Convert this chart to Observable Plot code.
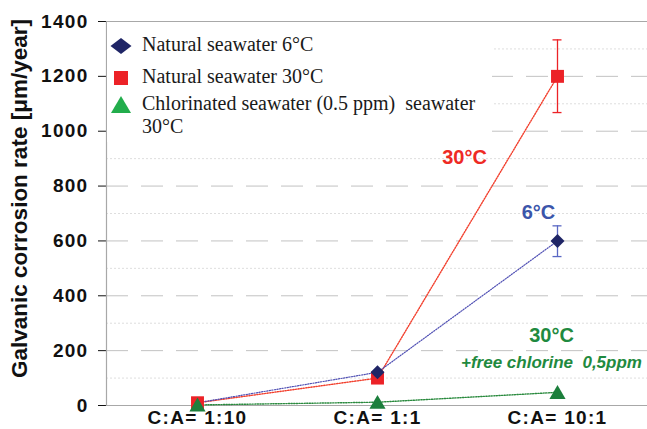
<!DOCTYPE html>
<html><head><meta charset="utf-8">
<script src="https://cdn.jsdelivr.net/npm/d3@7"></script>
<script src="https://cdn.jsdelivr.net/npm/@observablehq/plot@0.6"></script>
<style>
body{margin:0;background:#fff}
#wrap{position:relative;width:647px;height:429px;overflow:hidden}
#wrap svg text{white-space:pre}
g[aria-label="y-axis tick label"] text, g[aria-label="x-axis tick label"] text{font-weight:bold;letter-spacing:1.3px;fill:#111}
#legend{position:absolute;left:0;top:0}
</style></head>
<body><div id="wrap"></div>
<script>
// ---- data ----
const categories = ["C:A= 1:10", "C:A= 1:1", "C:A= 10:1"];
const seriesNames = ["Natural seawater 6°C", "Natural seawater 30°C", "Chlorinated seawater (0.5 ppm)  seawater"];
const legendSecondLine = ["", "", "30°C"];
const natural6 = [10, 121, 600];
const natural30 = [10, 100, 1200];
const chlorinated30 = [2, 12, 48];
const errCategory = ["C:A= 10:1", "C:A= 10:1"];
const errSeries = ["6", "30"];
const errLow = [543, 1068];
const errHigh = [655, 1333];
const yTicks = [0, 200, 400, 600, 800, 1000, 1200, 1400];
const majorGrid = [200, 400, 600, 800, 1000, 1200];
const minorGrid = [100, 300, 500, 700, 900, 1100, 1300];
const yLabel = "Galvanic corrosion rate [μm/year]";
const annotLabels = ["30°C", "6°C", "30°C", "+free chlorine  0,5ppm"];
const annotCats = ["C:A= 1:1", "C:A= 10:1", "C:A= 10:1", "C:A= 10:1"];
const annotValues = [904, 704, 255, 157];

// ---- styles ----
const cBlueDot = "#1f2566", cBlueLine = "#5050b4", cBlueErr = "#5a68c4", cBlueText = "#3b55aa";
const cRed = "#ec2227", cRedLine = "#f2402e", cRedText = "#ee2a24";
const cGreenDot = "#1c7f3c", cGreenLine = "#2a8a3e", cGreenText = "#1f8a40", cGreenLegend = "#22ad4c";

const rows6 = categories.map((c, i) => ({cat: c, v: natural6[i]}));
const rows30 = categories.map((c, i) => ({cat: c, v: natural30[i]}));
const rowsCl = categories.map((c, i) => ({cat: c, v: chlorinated30[i]}));
const errs = errCategory.map((c, i) => ({cat: c, s: errSeries[i], lo: errLow[i], hi: errHigh[i]}));
const annots = annotLabels.map((t, i) => ({t, cat: annotCats[i], v: annotValues[i]}));

const dash = "1.2,1.4";
const errColor = d => d.s === "6" ? cBlueErr : cRed;

const plot = Plot.plot({
  width: 647, height: 429,
  marginTop: 21, marginBottom: 24, marginLeft: 106, marginRight: 0,
  style: {fontFamily: "'Liberation Sans', Arial, sans-serif", fontSize: "19px", background: "#fff", color: "#111"},
  x: {type: "point", domain: categories, padding: 0.5, tickSize: 0, tickPadding: 5, label: null},
  y: {domain: [0, 1400], ticks: yTicks, tickSize: 8, tickPadding: 10, tickFormat: d => String(d), label: null},
  marks: [
    Plot.ruleY(minorGrid, {stroke: "#dedede", strokeDasharray: "2,2"}),
    Plot.ruleY(majorGrid, {stroke: "#c2c2c2", strokeDasharray: "22,13"}),
    Plot.ruleY([0, 1400], {stroke: "#a8a8a8", strokeWidth: 1.2}),
    Plot.frame({anchor: "left", stroke: "#a8a8a8", strokeWidth: 1.2}),
    // lines
    Plot.lineY(rowsCl, {x: "cat", y: "v", stroke: cGreenLine, strokeWidth: 1.4, strokeDasharray: dash}),
    Plot.lineY(rows30, {x: "cat", y: "v", stroke: cRedLine, strokeWidth: 1.4, strokeDasharray: dash}),
    Plot.lineY(rows6, {x: "cat", y: "v", stroke: cBlueLine, strokeWidth: 1.2, strokeDasharray: dash}),
    // error bars
    Plot.ruleX(errs, {x: "cat", y1: "lo", y2: "hi", stroke: errColor, strokeWidth: 1.3}),
    Plot.ruleY(errs, {x1: "cat", x2: "cat", y: "lo", stroke: errColor, strokeWidth: 1.3, insetLeft: -4.5, insetRight: -4.5}),
    Plot.ruleY(errs, {x1: "cat", x2: "cat", y: "hi", stroke: errColor, strokeWidth: 1.3, insetLeft: -4.5, insetRight: -4.5}),
    // dots
    Plot.dot(rows30, {x: "cat", y: "v", symbol: "square", r: 7.3, fill: cRed, stroke: null}),
    Plot.dot(rows6.filter(d => d.cat !== categories[0]), {x: "cat", y: "v", symbol: "diamond2", r: 6.3, fill: cBlueDot, stroke: null}),
    Plot.dot(rowsCl, {x: "cat", y: "v", symbol: "triangle", r: 6, fill: cGreenDot, stroke: null, dy: 2}),
    // annotations
    Plot.text(annots.slice(0, 1), {x: "cat", y: "v", text: "t", fill: cRedText, fontWeight: "bold", fontSize: 20, dx: 87, lineAnchor: "middle"}),
    Plot.text(annots.slice(1, 2), {x: "cat", y: "v", text: "t", fill: cBlueText, fontWeight: "bold", fontSize: 20, dx: -19, lineAnchor: "middle"}),
    Plot.text(annots.slice(2, 3), {x: "cat", y: "v", text: "t", fill: cGreenText, fontWeight: "bold", fontSize: 20, dx: -6, lineAnchor: "middle"}),
    Plot.text(annots.slice(3, 4), {x: "cat", y: "v", text: "t", fill: cGreenText, fontWeight: "bold", fontStyle: "italic", fontSize: 17, dx: -6, lineAnchor: "middle"}),
    // y label
    Plot.text([yLabel], {frameAnchor: "left", text: d => d, rotate: -90, dx: -87, dy: -15, fontSize: 22.5, fontWeight: "bold", fill: "#111", textAnchor: "middle", lineAnchor: "middle"})
  ]
});
const wrap = document.getElementById("wrap");
wrap.appendChild(plot);

// ---- legend (overlay inside plot area) ----
const lg = d3.select(wrap).append("svg").attr("id", "legend").attr("width", 647).attr("height", 429);
lg.append("rect").attr("x", 107).attr("y", 22).attr("width", 385).attr("height", 120).attr("fill", "#fff");
const legendColors = [cBlueDot, cRed, cGreenLegend];
const markerPaths = [
  "M-10.5,0L0,-8L10.5,0L0,8Z",
  "M-7,-7H7V7H-7Z",
  "M0,-9L10,8H-10Z"
];
const rowY = [46, 78, 105];
const textY = [51, 83, 110];
seriesNames.forEach((name, i) => {
  lg.append("path").attr("d", markerPaths[i]).attr("fill", legendColors[i])
    .attr("transform", `translate(121,${rowY[i]})`);
  lg.append("text").attr("x", 142).attr("y", textY[i]).text(name)
    .attr("font-family", "'Liberation Serif', 'Times New Roman', serif").attr("font-size", 20)
    .attr("fill", "#1a1a1a").style("white-space", "pre");
  if (legendSecondLine[i]) {
    lg.append("text").attr("x", 142).attr("y", textY[i] + 23).text(legendSecondLine[i])
      .attr("font-family", "'Liberation Serif', 'Times New Roman', serif").attr("font-size", 20)
      .attr("fill", "#1a1a1a");
  }
});
</script>
</body></html>
